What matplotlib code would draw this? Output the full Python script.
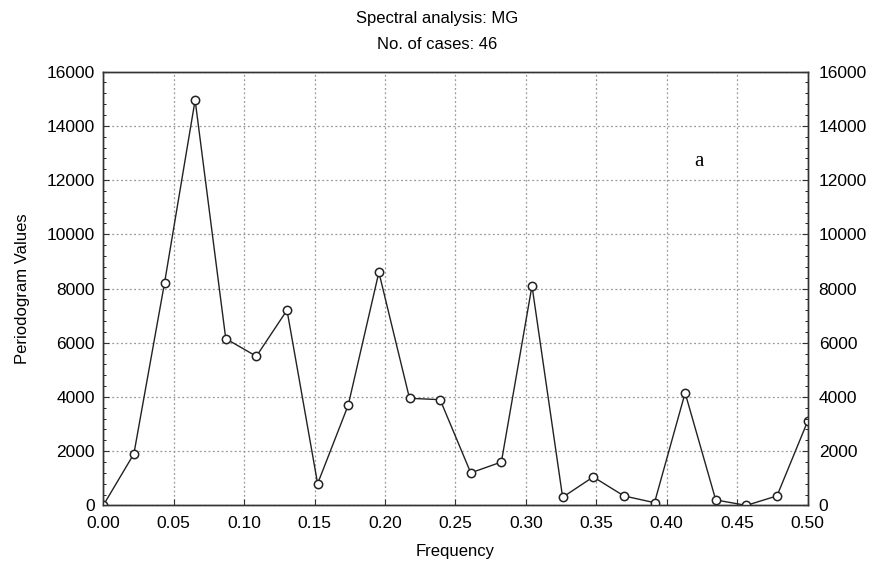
import matplotlib
matplotlib.use("Agg")
import matplotlib.pyplot as plt
import numpy as np
from matplotlib.ticker import MultipleLocator

plt.rcParams['font.family'] = ['Liberation Sans', 'DejaVu Sans']

n_cases = 46
frequency = [k / n_cases for k in range(24)]
periodogram = [0, 1900, 8200, 14950, 6150, 5500, 7200, 800, 3700, 8600, 3950, 3900,
               1200, 1600, 8100, 300, 1050, 350, 100, 4150, 200, 0, 350, 3100]
x_ticks = [0.00, 0.05, 0.10, 0.15, 0.20, 0.25, 0.30, 0.35, 0.40, 0.45, 0.50]
y_ticks = [0, 2000, 4000, 6000, 8000, 10000, 12000, 14000, 16000]

fig = plt.figure(figsize=(8.75, 5.73), dpi=100)
ax = fig.add_axes([0.118, 0.118, 0.805, 0.757])

ax.plot(frequency, periodogram, color='#222222', lw=1.0, marker='o', ms=6,
        mfc='white', mec='#222222', mew=1.1, zorder=3)

ax.set_xlim(0, 0.5)
ax.set_ylim(0, 16000)
ax.set_xticks(x_ticks)
ax.set_xticklabels([f"{t:.2f}" for t in x_ticks])
ax.set_yticks(y_ticks)
ax.yaxis.set_minor_locator(MultipleLocator(400))
ax.grid(True, which='major', linestyle=(0, (1.5, 2)), color='#999999', lw=0.9)

ax2 = ax.twinx()
ax2.set_ylim(0, 16000)
ax2.set_yticks(y_ticks)
ax2.yaxis.set_minor_locator(MultipleLocator(400))

for a in (ax, ax2):
    a.tick_params(axis='both', which='major', labelsize=12.5, length=4, direction='in', color='#333333')
    a.tick_params(axis='y', which='minor', length=2, direction='in')
    for s in a.spines.values():
        s.set_color('#333333')
        s.set_linewidth(1.0)
ax.tick_params(axis='y', pad=6)
ax2.tick_params(axis='y', pad=8)
ax.tick_params(axis='x', pad=8)

ax.set_xlabel("Frequency", fontsize=12, labelpad=9)
ax.set_ylabel("Periodogram Values", fontsize=12, labelpad=12)

fig.text(0.5, 0.968, "Spectral analysis: MG", ha='center', va='center', fontsize=12)
fig.text(0.5, 0.922, "No. of cases: 46", ha='center', va='center', fontsize=12)
ax.text(0.423, 12700, "a", fontsize=15, family=['Liberation Serif', 'DejaVu Serif'],
        ha='center', va='center')

fig.savefig("out.png", dpi=100)
